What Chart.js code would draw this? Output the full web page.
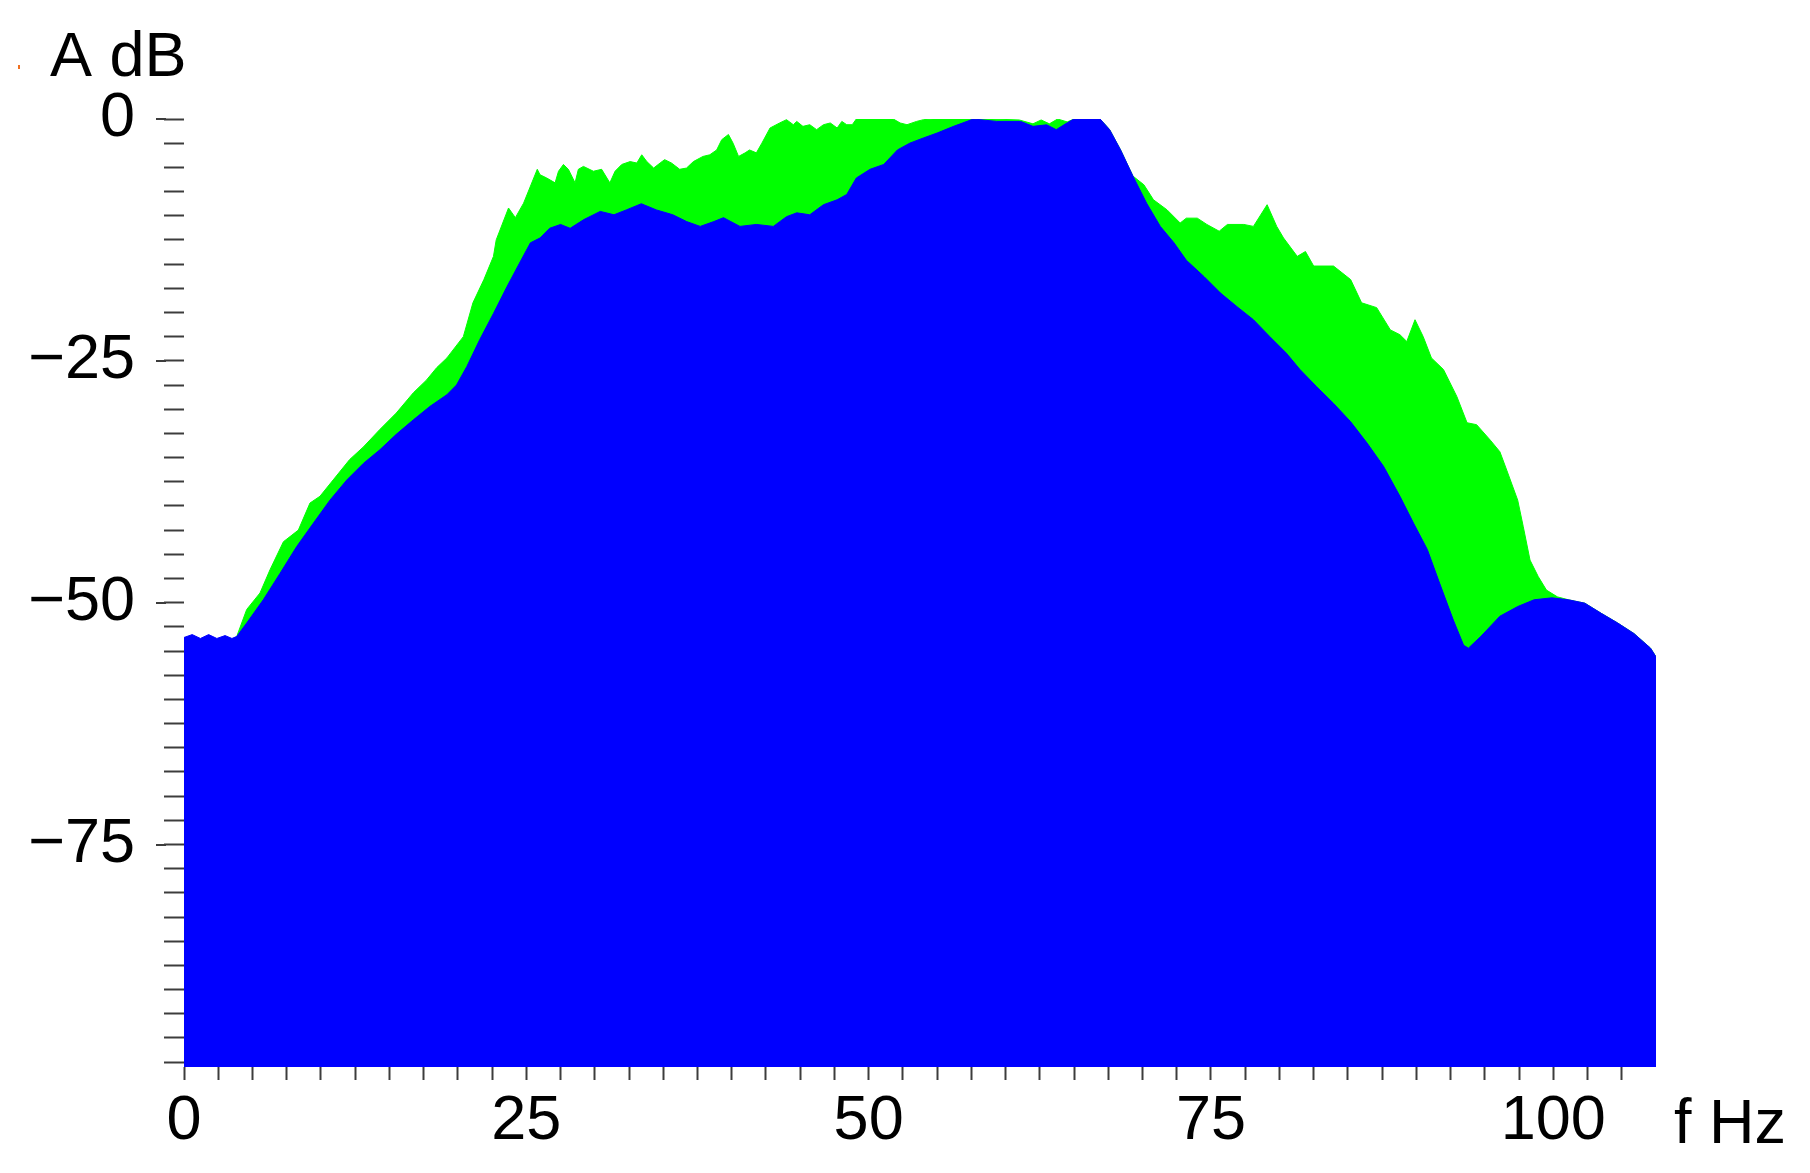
<!DOCTYPE html>
<html>
<head>
<meta charset="utf-8">
<script src="https://cdn.jsdelivr.net/npm/chart.js@4.4.0/dist/chart.umd.min.js"></script>
<style>
html,body{margin:0;padding:0;background:#fff;}
canvas{display:block;}
</style>
</head>
<body>
<canvas id="c" width="1810" height="1173"></canvas>
<script>
// ---- data (frequency in Hz, amplitude in dB) ----
const greenHz = [0,0.6,1.2,1.8,2.4,3.0,3.5,3.85,4.58,5.55,6.28,7.26,8.35,9.2,9.93,10.9,12.1,13.1,14.3,15.5,16.75,17.7,18.46,19.2,20.4,21.1,21.9,22.6,22.8,23.7,24.2,24.8,25.8,26.0,26.49,27.1,27.35,27.71,28.07,28.56,28.8,29.17,29.9,30.5,31.1,31.48,31.97,32.58,33.07,33.43,33.8,34.3,34.77,35.1,35.6,36.2,36.7,37.2,37.9,38.4,38.9,39.27,39.76,40.1,40.5,40.98,41.3,41.8,42.2,42.8,43.5,44.0,44.5,44.75,45.2,45.7,46.2,46.7,47.2,47.7,48.04,48.4,48.8,49.1,51.8,52.3,52.8,53.5,54.0,54.7,57,59,61,62,62.6,63.2,63.8,64.5,65,66.9,67.6,68.4,69.3,70.1,70.8,71.8,72.75,73.2,74.0,74.7,75.6,76.2,77.4,78.1,79.1,79.8,80.3,81.3,81.9,82.5,83.95,85.2,86.0,87.1,88.1,88.8,89.3,89.9,90.5,91.1,91.98,92.96,93.7,94.4,95.4,96.1,96.6,97.4,97.8,98.3,98.9,99.5,100.3,101.1,102.3,103.5,104.7,105.9,107.1,107.5];
const greenDb = [-53.7,-53.5,-53.8,-53.5,-53.8,-53.6,-53.8,-53.5,-50.7,-49.0,-46.6,-43.7,-42.5,-39.7,-39.0,-37.3,-35.2,-33.9,-32.1,-30.4,-28.3,-27.0,-25.7,-24.7,-22.5,-19.0,-16.6,-14.2,-12.5,-9.2,-10.2,-8.7,-5.2,-5.76,-6.1,-6.6,-5.4,-4.7,-5.2,-6.6,-5.2,-4.9,-5.4,-5.2,-6.6,-5.4,-4.7,-4.4,-4.55,-3.7,-4.4,-5.07,-4.55,-4.2,-4.55,-5.2,-5.07,-4.4,-3.87,-3.7,-3.2,-2.14,-1.6,-2.5,-3.87,-3.5,-3.2,-3.5,-2.5,-0.93,-0.41,-0.07,-0.59,-0.25,-0.76,-0.59,-1.1,-0.59,-0.41,-0.93,-0.25,-0.59,-0.59,0,0,-0.41,-0.59,-0.25,-0.07,0,0,0,-0.1,-0.5,-0.1,-0.5,0,-0.3,0,0,-1.1,-3.2,-5.9,-6.8,-8.35,-9.4,-10.75,-10.25,-10.25,-10.9,-11.6,-10.9,-10.9,-11.1,-8.86,-11.1,-12.3,-14.2,-13.7,-15.2,-15.2,-16.6,-19.0,-19.5,-21.8,-22.3,-23.0,-20.75,-22.5,-24.7,-25.9,-28.7,-31.4,-31.6,-33.2,-34.4,-36.3,-39.4,-42.1,-45.6,-47.3,-48.7,-49.4,-49.7,-50.05,-51.1,-52.1,-53.2,-54.7,-55.6];

const blueHz = [0,0.6,1.2,1.8,2.4,3.0,3.5,3.85,4.58,5.79,7.0,8.23,9.44,10.66,11.9,13.1,14.3,15.5,16.75,17.97,19.2,19.9,20.65,21.6,22.6,23.6,24.5,25.3,26.0,26.7,27.5,28.2,29.2,30.4,31.4,32.3,33.4,34.5,35.7,36.7,37.7,38.7,39.4,40.6,41.8,43.04,44.0,44.75,45.7,46.7,47.7,48.4,49.1,50.1,51.1,52.1,53.0,54.0,55.0,56.2,57.65,59.35,61.1,62.0,63.0,63.7,64.5,65.0,66.9,67.6,68.4,69.3,70.3,71.3,72.3,73.2,74.5,75.7,76.9,78.1,79.3,80.5,81.5,82.7,83.95,85.2,86.4,87.6,88.8,89.8,90.8,91.7,92.7,93.45,93.8,94.7,96.1,97.4,98.6,99.9,101.1,102.3,103.5,104.7,105.9,107.1,107.5];
const blueDb = [-53.6,-53.3,-53.7,-53.3,-53.7,-53.4,-53.7,-53.5,-52.1,-49.7,-47.0,-44.2,-41.8,-39.4,-37.3,-35.6,-34.2,-32.6,-31.1,-29.7,-28.5,-27.5,-25.6,-22.8,-20.1,-17.3,-14.9,-12.8,-12.3,-11.3,-10.9,-11.3,-10.4,-9.55,-9.9,-9.4,-8.76,-9.4,-9.9,-10.6,-11.1,-10.6,-10.2,-11.1,-10.9,-11.1,-10.1,-9.7,-9.9,-8.86,-8.35,-7.8,-6.1,-5.2,-4.7,-3.2,-2.5,-1.96,-1.45,-0.76,0,-0.25,-0.25,-0.76,-0.6,-1.1,-0.4,0,0,-1.1,-3.2,-5.9,-8.7,-11.1,-12.8,-14.6,-16.3,-18.0,-19.4,-20.75,-22.5,-24.2,-25.9,-27.65,-29.4,-31.3,-33.5,-35.9,-39.0,-41.8,-44.5,-48.0,-51.8,-54.4,-54.7,-53.5,-51.4,-50.4,-49.7,-49.5,-49.7,-50.05,-51.1,-52.1,-53.2,-54.7,-55.6];

const xMajorTicks = [0, 25, 50, 75, 100];
const yMajorTicks = [0, -25, -50, -75];
const xTitle = 'f Hz';
const yTitle = 'A dB';

const pts = (xs, ys) => xs.map((x, i) => ({x: x, y: ys[i]}));
const FONT = '"Liberation Sans", Arial, sans-serif';
const TICK_COLOR = '#3c3c3c';
const fmt = v => (v < 0 ? '\u2212' + Math.abs(v) : String(v));

const extras = {
  id: 'extras',
  afterDraw(chart) {
    const ctx = chart.ctx;
    const ys = chart.scales.y, xs = chart.scales.x;
    ctx.save();
    // longer major ticks on the y axis
    ctx.strokeStyle = TICK_COLOR;
    ctx.lineWidth = 2;
    yMajorTicks.forEach(v => {
      const p = Math.round(ys.getPixelForValue(v));
      ctx.beginPath();
      ctx.moveTo(ys.right - 28, p);
      ctx.lineTo(ys.right - 18, p);
      ctx.stroke();
    });
    // small stray mark at top-left, as in the original
    ctx.fillStyle = '#f07020';
    ctx.fillRect(18, 65, 2, 4);
    // axis titles
    ctx.fillStyle = '#000';
    ctx.font = '63px ' + FONT;
    ctx.textBaseline = 'alphabetic';
    ctx.textAlign = 'left';
    ctx.fillText(yTitle, 50, 76);
    ctx.fillText(xTitle, xs.right + 18, 1143);
    ctx.restore();
  }
};

new Chart(document.getElementById('c'), {
  type: 'line',
  data: {
    datasets: [
      {
        label: 'blue', data: pts(blueHz, blueDb), order: 0,
        borderColor: '#0000ff', backgroundColor: '#0000ff', borderWidth: 1,
        fill: 'start', pointRadius: 0, tension: 0
      },
      {
        label: 'green', data: pts(greenHz, greenDb), order: 1,
        borderColor: '#00ff00', backgroundColor: '#00ff00', borderWidth: 1,
        fill: 'start', pointRadius: 0, tension: 0
      }
    ]
  },
  options: {
    responsive: false,
    animation: false,
    events: [],
    layout: { padding: { left: 0, right: 154, top: 119, bottom: 0 } },
    plugins: { legend: { display: false }, tooltip: { enabled: false }, title: { display: false } },
    scales: {
      x: {
        type: 'linear', min: 0, max: 107.5,
        border: { display: false },
        grid: { display: true, drawOnChartArea: false, drawTicks: true, tickLength: 13, tickColor: TICK_COLOR, tickWidth: 2 },
        afterBuildTicks: s => { s.ticks = s.ticks.filter(t => t.value <= 105.01); },
        afterFit: s => { s.height = 106; },
        ticks: {
          stepSize: 2.5, autoSkip: false, maxRotation: 0, minRotation: 0, includeBounds: false,
          padding: 4, color: '#000', font: { family: FONT, size: 63 },
          callback: v => (xMajorTicks.includes(v) ? fmt(v) : '')
        }
      },
      y: {
        type: 'linear', min: -98, max: 0,
        border: { display: false },
        grid: { display: true, drawOnChartArea: false, drawTicks: true, tickLength: 20, tickColor: TICK_COLOR, tickWidth: 2 },
        afterFit: s => { s.width = 184; },
        ticks: {
          stepSize: 2.5, autoSkip: false, includeBounds: false,
          padding: 29, color: '#000', font: { family: FONT, size: 63 },
          callback: v => (yMajorTicks.includes(v) ? fmt(v) : '')
        }
      }
    }
  },
  plugins: [extras]
});
</script>
</body>
</html>
